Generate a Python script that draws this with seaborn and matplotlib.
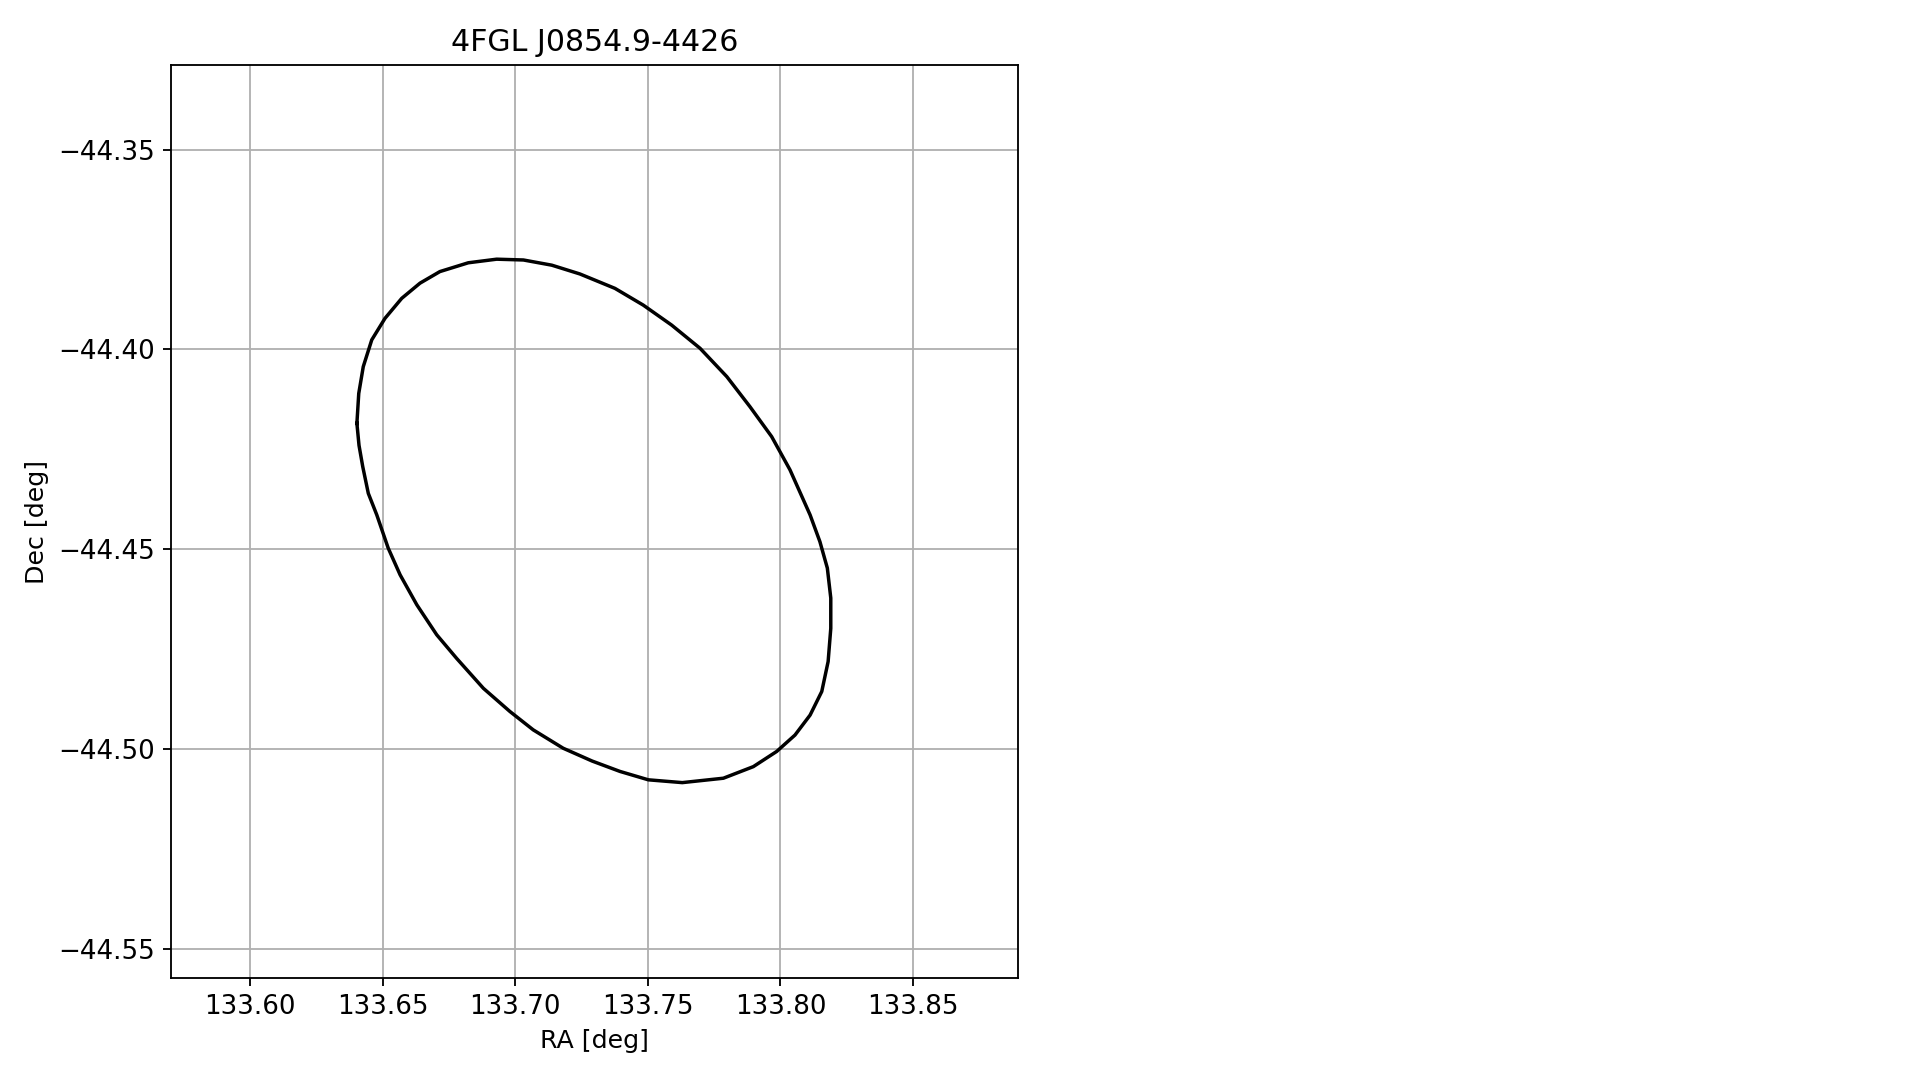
import numpy as np
import pandas as pd
import matplotlib
matplotlib.use("Agg")
import matplotlib.pyplot as plt
import seaborn as sns

# error ellipse outline of the source
ra = [133.6403, 133.6410, 133.6427, 133.6459, 133.6509, 133.6572, 133.6641, 133.6716,
      133.6823, 133.6930, 133.7031, 133.7138, 133.7244, 133.7376, 133.7483, 133.7590,
      133.7697, 133.7798, 133.7885, 133.7967, 133.8036, 133.8112, 133.8149, 133.8177,
      133.8190, 133.8190, 133.8180, 133.8156, 133.8112, 133.8055, 133.7986, 133.7898,
      133.7785, 133.7630, 133.7502, 133.7395, 133.7290, 133.7181, 133.7068, 133.6980,
      133.6880, 133.6779, 133.6704, 133.6629, 133.6566, 133.6521, 133.6478, 133.6446,
      133.6425, 133.6411, 133.6403]
dec = [-44.4185, -44.4110, -44.4043, -44.3976, -44.3922, -44.3872, -44.3834, -44.3805,
       -44.3783, -44.3774, -44.3776, -44.3789, -44.3811, -44.3847, -44.3889, -44.3939,
       -44.3997, -44.4068, -44.4143, -44.4218, -44.4301, -44.4414, -44.4481, -44.4547,
       -44.4622, -44.4698, -44.4781, -44.4856, -44.4915, -44.4965, -44.5006, -44.5044,
       -44.5073, -44.5084, -44.5077, -44.5056, -44.5030, -44.4998, -44.4952, -44.4906,
       -44.4848, -44.4773, -44.4714, -44.4639, -44.4564, -44.4497, -44.4414, -44.4360,
       -44.4293, -44.4240, -44.4185]
source_name = "4FGL J0854.9-4426"
ra_ticks = [133.60, 133.65, 133.70, 133.75, 133.80, 133.85]
dec_ticks = [-44.35, -44.40, -44.45, -44.50, -44.55]

df = pd.DataFrame({"RA": ra, "Dec": dec})

s = 1.66  # scale of the default line sizes
plt.rcParams["font.family"] = ["DejaVu Sans"]
plt.rcParams["font.size"] = 18.5

fig = plt.figure(figsize=(19.19, 10.8), dpi=100)
ax = fig.add_axes([171 / 1919, 1 - 978 / 1080, (1018 - 171) / 1919, (978 - 65) / 1080])

sns.lineplot(data=df, x="RA", y="Dec", sort=False, estimator=None,
             color="black", linewidth=1.5 * s, ax=ax)

ax.set_xlim(133.5702, 133.8896)
ax.set_ylim(-44.5573, -44.3288)
ax.set_xticks(ra_ticks)
ax.set_xticklabels([f"{t:.2f}" for t in ra_ticks])
ax.set_yticks(dec_ticks)
ax.set_yticklabels([f"{t:.2f}".replace("-", "\u2212") for t in dec_ticks])
ax.grid(True, color="#b0b0b0", linewidth=0.8 * s)
ax.set_axisbelow(True)
ax.tick_params(length=3.5 * s, width=0.8 * s, pad=3.5 * s, labelsize=18.8)
for sp in ax.spines.values():
    sp.set_linewidth(0.8 * s)

ax.set_xlabel("RA [deg]", fontsize=18.2, labelpad=4 * s)
ax.set_ylabel("Dec [deg]", fontsize=18.2, labelpad=4 * s)
ax.set_title(source_name, fontsize=21.6, pad=6 * s)

fig.savefig("out.png", dpi=100)
